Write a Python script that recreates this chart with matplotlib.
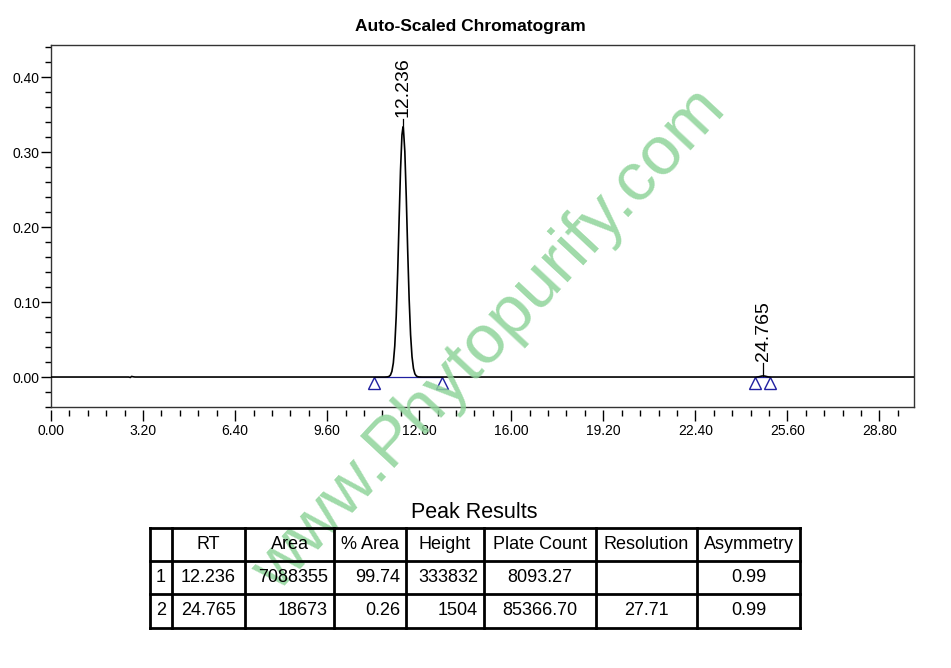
import matplotlib
matplotlib.use("Agg")
import matplotlib.pyplot as plt
from matplotlib.ticker import MultipleLocator, FixedLocator, FormatStrFormatter

plt.rcParams['font.family'] = ['Liberation Sans', 'DejaVu Sans']

# detector trace (time in min, signal in AU)
trace_t = [0.00, 2.70, 2.76, 2.80, 2.86, 2.92, 11.60, 11.70, 11.75, 11.80, 11.85, 11.90,
           11.95, 12.00, 12.05, 12.10, 12.15, 12.20, 12.236, 12.25, 12.30, 12.35,
           12.40, 12.45, 12.50, 12.55, 12.60, 12.65, 12.70, 12.75, 12.80, 12.90,
           24.50, 24.60, 24.65, 24.70, 24.765, 24.83, 24.88, 24.93, 25.05, 30.00]
trace_v = [0.0000, 0.0000, -0.0006, 0.0008, 0.0003, 0.0000, 0.0000, 0.0002, 0.0008, 0.0026,
           0.0075, 0.0187, 0.0414, 0.0807, 0.1380, 0.2080, 0.2760, 0.3230, 0.3338, 0.3320,
           0.3010, 0.2400, 0.1680, 0.1040, 0.0564, 0.0270, 0.0114, 0.0042, 0.0014,
           0.0004, 0.0001, 0.0000, 0.0000, 0.0003, 0.0007, 0.0012, 0.0015, 0.0011,
           0.0006, 0.0002, 0.0000, 0.0000]

# integration results
peak_rt = [12.236, 24.765]
peak_height = [0.3338, 0.0015]
peak_start = [11.23, 24.48]
peak_end = [13.59, 25.00]

x_ticks = [0.00, 3.20, 6.40, 9.60, 12.80, 16.00, 19.20, 22.40, 25.60, 28.80]

col_names = ["", "RT", "Area", "% Area", "Height", "Plate Count", "Resolution", "Asymmetry"]
rows = [["1", "12.236", "7088355", "99.74", "333832", "8093.27", "", "0.99"],
        ["2", "24.765", "18673", "0.26", "1504", "85366.70", "27.71", "0.99"]]

W, H = 951, 668
fig = plt.figure(figsize=(W / 100, H / 100), dpi=100)
ax = fig.add_axes([51 / W, 1 - 407 / H, 863 / W, 362 / H])
ax.set_zorder(0)

# baselines + markers
for s, e in zip(peak_start, peak_end):
    ax.plot([s, e], [0, 0], color='#2020a0', lw=0.9, zorder=2)
    ax.plot([s, e], [-0.0085, -0.0085], ls='none', marker='^', ms=9,
            mfc='none', mec='#2020a0', mew=1.0, zorder=3)
ax.plot(trace_t, trace_v, color='black', lw=1.2, zorder=4)

# rt labels
for rt, h in zip(peak_rt, peak_height):
    if h > 0.05:
        top = h + 0.010
    else:
        top = h + 0.017
    ax.plot([rt, rt], [h, top], color='black', lw=0.9, zorder=4)
    ax.text(rt, top + 0.003, f"{rt:.3f}", rotation=90, ha='center', va='bottom',
            fontsize=14)

ax.set_xlim(0, 30)
ax.set_ylim(-0.04, 0.443)
ax.yaxis.set_major_locator(MultipleLocator(0.10))
ax.yaxis.set_minor_locator(MultipleLocator(0.02))
ax.yaxis.set_major_formatter(FormatStrFormatter('%.2f'))
ax.tick_params(axis='y', which='major', direction='out', length=7, width=1, labelsize=10, pad=1)
ax.tick_params(axis='y', which='minor', direction='out', length=4, width=1)
ax.tick_params(axis='x', which='both', bottom=False, labelbottom=False)
for sp in ax.spines.values():
    sp.set_linewidth(1.0)
    sp.set_color('#333333')

# x axis drawn slightly below the frame
sec = ax.secondary_xaxis(-0.009)
for sp in sec.spines.values():
    sp.set_visible(False)
sec.xaxis.set_major_locator(FixedLocator(x_ticks))
sec.xaxis.set_minor_locator(FixedLocator([i * 0.64 for i in range(47)]))
sec.xaxis.set_major_formatter(FormatStrFormatter('%.2f'))
sec.tick_params(axis='x', which='major', direction='out', length=8, width=1, labelsize=10, pad=2)
sec.tick_params(axis='x', which='minor', direction='out', length=4, width=1)

fig.text(470 / W, 1 - 27 / H, "Auto-Scaled Chromatogram", ha='center', va='center',
         fontsize=12.5, fontweight='bold')

# watermark (behind the table text)
fig.text(490 / W, 1 - 340 / H, "www.Phytopurify.com", rotation=47, rotation_mode='anchor',
         ha='center', va='center', fontsize=50, color='#8fd49a', alpha=0.85, zorder=1)

# peak table
fig.text(474 / W, 1 - 513 / H, "Peak Results", ha='center', va='center', fontsize=15.5, zorder=5)
tab = fig.add_axes([148 / W, 1 - 630 / H, 654 / W, 104 / H])
tab.set_zorder(4)
tab.set_xlim(148, 802)
tab.set_ylim(630, 526)
tab.axis('off')
edges = [150, 172, 245, 334, 406, 484, 596, 697, 800]
row_edges = [528, 561, 594, 628]
for x in edges:
    tab.plot([x, x], [row_edges[0], row_edges[-1]], color='black', lw=2, solid_capstyle='projecting')
for y in row_edges:
    tab.plot([edges[0], edges[-1]], [y, y], color='black', lw=2, solid_capstyle='projecting')

align = ['center', 'center', 'right', 'right', 'right', 'center', 'center', 'center']
for j, name in enumerate(col_names):
    cx = (edges[j] + edges[j + 1]) / 2
    tab.text(cx, (row_edges[0] + row_edges[1]) / 2, name, ha='center', va='center', fontsize=13)
for i, row in enumerate(rows):
    cy = (row_edges[i + 1] + row_edges[i + 2]) / 2
    for j, val in enumerate(row):
        if align[j] == 'right':
            tx = edges[j + 1] - 6
        else:
            tx = (edges[j] + edges[j + 1]) / 2
        tab.text(tx, cy, val, ha=align[j], va='center', fontsize=13)

fig.savefig("out.png", dpi=100)
